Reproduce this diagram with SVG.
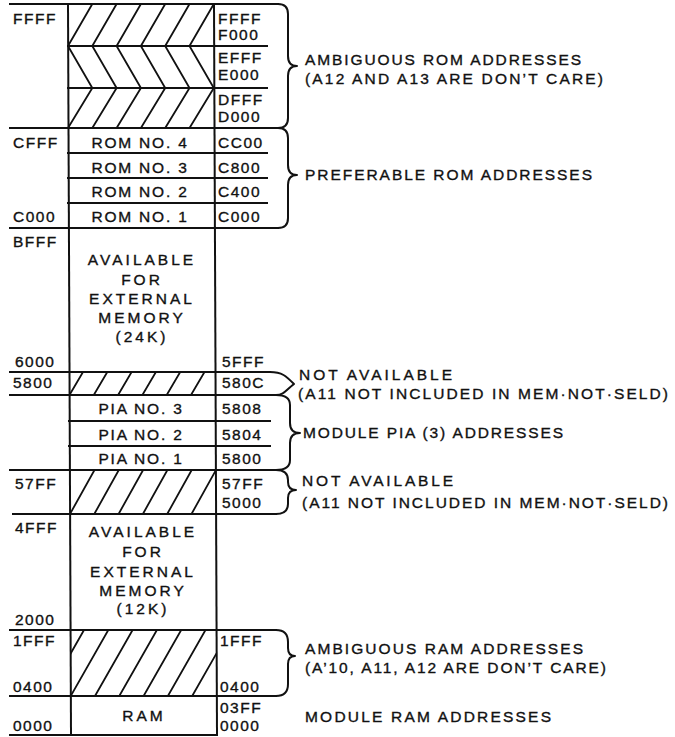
<svg xmlns="http://www.w3.org/2000/svg" width="675" height="737" viewBox="0 0 675 737">
<style>
text{font-family:"Liberation Sans",Arial,Helvetica,sans-serif;font-size:15.5px;fill:#111;stroke:#111;stroke-width:0.35px}
.adr{letter-spacing:1.5px}
.rom{letter-spacing:1.8px;text-anchor:middle}
.ext{letter-spacing:3px;text-anchor:middle}
.ln{stroke:#111;stroke-width:2;fill:none;stroke-linecap:square}
.ht{stroke:#111;stroke-width:1.8;fill:none}
.br{stroke:#111;stroke-width:2;fill:none;stroke-linejoin:round}
</style>
<defs>
<clipPath id="cD"><rect x="69.5" y="372" width="146" height="23"/></clipPath>
<clipPath id="cE"><rect x="70" y="470" width="146" height="44"/></clipPath>
<clipPath id="cF"><rect x="70.7" y="630" width="146" height="66"/></clipPath>
</defs>
<rect width="675" height="737" fill="#fff"/>

<g id="frame">
<line class="ln" x1="68" y1="4" x2="71" y2="735"/>
<line class="ln" x1="214" y1="4" x2="217" y2="735"/>
<line class="ln" x1="10" y1="4" x2="278" y2="4"/>
<line class="ln" x1="10" y1="128" x2="278" y2="128"/>
<line class="ln" x1="10" y1="228" x2="278" y2="228"/>
<line class="ln" x1="10" y1="372" x2="270" y2="372"/>
<line class="ln" x1="10" y1="395" x2="276" y2="395"/>
<line class="ln" x1="10" y1="470" x2="276" y2="470"/>
<line class="ln" x1="13" y1="514" x2="276" y2="514"/>
<line class="ln" x1="10" y1="630" x2="276" y2="630"/>
<line class="ln" x1="10" y1="696" x2="276" y2="696"/>
<line class="ln" x1="10" y1="735" x2="217" y2="735"/>
</g>

<g id="rom-ambiguous-F">
<line class="ln" x1="68" y1="46" x2="267" y2="46"/>
<path class="ht" d="M68 46L92.3 4M92.3 46L116.6 4M116.6 46L140.9 4M140.9 46L165.2 4M165.2 46L189.5 4M189.5 46L213.8 4"/>
<text class="adr" x="13" y="24">FFFF</text>
<text class="adr" x="218" y="24">FFFF</text>
<text class="adr" x="218" y="40">F000</text>
</g>
<g id="rom-ambiguous-E">
<line class="ln" x1="68" y1="88" x2="267" y2="88"/>
<path class="ht" d="M68 46L92.3 88M92.3 46L116.6 88M116.6 46L140.9 88M140.9 46L165.2 88M165.2 46L189.5 88M189.5 46L213.8 88"/>
<text class="adr" x="218" y="63">EFFF</text>
<text class="adr" x="218" y="80">E000</text>
</g>
<g id="rom-ambiguous-D">
<path class="ht" d="M68 128L92.3 88M92.3 128L116.6 88M116.6 128L140.9 88M140.9 128L165.2 88M165.2 128L189.5 88M189.5 128L213.8 88"/>
<text class="adr" x="218" y="105">DFFF</text>
<text class="adr" x="218" y="122">D000</text>
</g>

<g id="rom4">
<line class="ln" x1="68" y1="153" x2="267" y2="153"/>
<text class="adr" x="13" y="148">CFFF</text>
<text class="rom" x="140" y="148">ROM NO. 4</text>
<text class="adr" x="218" y="148">CC00</text>
</g>
<g id="rom3">
<line class="ln" x1="68" y1="178" x2="267" y2="178"/>
<text class="rom" x="140" y="173">ROM NO. 3</text>
<text class="adr" x="218" y="173">C800</text>
</g>
<g id="rom2">
<line class="ln" x1="68" y1="203" x2="267" y2="203"/>
<text class="rom" x="140" y="197">ROM NO. 2</text>
<text class="adr" x="218" y="197">C400</text>
</g>
<g id="rom1">
<text class="adr" x="13" y="222">C000</text>
<text class="rom" x="140" y="222">ROM NO. 1</text>
<text class="adr" x="218" y="222">C000</text>
</g>

<g id="ext24k">
<text class="adr" x="13" y="247">BFFF</text>
<text class="ext" x="142" y="265">AVAILABLE</text>
<text class="ext" x="142" y="285">FOR</text>
<text class="ext" x="142" y="304">EXTERNAL</text>
<text class="ext" x="142" y="323">MEMORY</text>
<text class="ext" x="142" y="342">(24K)</text>
<text class="adr" x="15" y="367">6000</text>
<text class="adr" x="222" y="367">5FFF</text>
</g>

<g id="na-5800">
<path class="ht" clip-path="url(#cD)" d="M69.5 395L83 372M93.8 395L107.3 372M118.1 395L131.6 372M142.4 395L155.9 372M166.7 395L180.2 372M191 395L204.5 372"/>
<text class="adr" x="13" y="388">5800</text>
<text class="adr" x="222" y="388">580C</text>
</g>

<g id="pia3">
<line class="ln" x1="69" y1="421" x2="270" y2="421"/>
<text class="rom" x="141" y="414">PIA NO. 3</text>
<text class="adr" x="222" y="414">5808</text>
</g>
<g id="pia2">
<line class="ln" x1="69" y1="446" x2="270" y2="446"/>
<text class="rom" x="141" y="440">PIA NO. 2</text>
<text class="adr" x="222" y="440">5804</text>
</g>
<g id="pia1">
<text class="rom" x="141" y="464">PIA NO. 1</text>
<text class="adr" x="222" y="464">5800</text>
</g>

<g id="na-57ff">
<path class="ht" clip-path="url(#cE)" d="M45.7 514L70.2 470M70 514L94.5 470M94.3 514L118.8 470M118.6 514L143.1 470M142.9 514L167.4 470M167.2 514L191.7 470M191.5 514L216 470"/>
<text class="adr" x="15" y="489">57FF</text>
<text class="adr" x="222" y="489">57FF</text>
<text class="adr" x="222" y="508">5000</text>
</g>

<g id="ext12k">
<text class="adr" x="15" y="533">4FFF</text>
<text class="ext" x="143" y="537">AVAILABLE</text>
<text class="ext" x="143" y="557">FOR</text>
<text class="ext" x="143" y="577">EXTERNAL</text>
<text class="ext" x="143" y="596">MEMORY</text>
<text class="ext" x="143" y="614">(12K)</text>
<text class="adr" x="15" y="625">2000</text>
</g>

<g id="ram-ambiguous">
<path class="ht" clip-path="url(#cF)" d="M46.4 696L84 630M70.7 696L108.3 630M95 696L132.6 630M119.3 696L156.9 630M143.6 696L181.2 630M167.9 696L205.5 630M192.2 696L229.8 630"/>
<text class="adr" x="13" y="646">1FFF</text>
<text class="adr" x="13" y="692">0400</text>
<text class="adr" x="220" y="646">1FFF</text>
<text class="adr" x="220" y="692">0400</text>
</g>

<g id="ram">
<text class="adr" x="13" y="731">0000</text>
<text class="ext" x="144" y="721">RAM</text>
<text class="adr" x="220" y="713">03FF</text>
<text class="adr" x="220" y="731">0000</text>
</g>

<g id="connectors">
<path class="br" d="M278 4Q288 4 288 14L288 56Q288 66 297 66Q288 66 288 76L288 118Q288 128 278 128"/>
<path class="br" d="M278 128Q288 128 288 138L288 165Q288 175 297 175Q288 175 288 185L288 218Q288 228 278 228"/>
<path class="br" d="M270 372C282 372 286 376 294 384C286 390 284 395 276 395"/>
<path class="br" d="M276 395Q290 395 290 405L290 423Q290 433 300 433Q290 433 290 443L290 460Q290 470 276 470"/>
<path class="br" d="M276 470Q288 470 288 480L288 482Q288 490 296 490Q288 490 288 498L288 504Q288 514 276 514"/>
<path class="br" d="M276 630Q288 630 288 642L288 648Q288 656 295 656Q288 656 288 664L288 684Q288 696 276 696"/>
</g>

<g id="annotations">
<text x="305" y="65" textLength="276" lengthAdjust="spacing">AMBIGUOUS ROM ADDRESSES</text>
<text x="305" y="84" textLength="298" lengthAdjust="spacing">(A12 AND A13 ARE DON’T CARE)</text>
<text x="305" y="180" textLength="287" lengthAdjust="spacing">PREFERABLE ROM ADDRESSES</text>
<text x="299" y="380" textLength="153" lengthAdjust="spacing">NOT AVAILABLE</text>
<text x="298" y="399" textLength="370" lengthAdjust="spacing">(A11 NOT INCLUDED IN MEM·NOT·SELD)</text>
<text x="303" y="438" textLength="260" lengthAdjust="spacing">MODULE PIA (3) ADDRESSES</text>
<text x="302" y="486" textLength="151" lengthAdjust="spacing">NOT AVAILABLE</text>
<text x="302" y="508" textLength="366" lengthAdjust="spacing">(A11 NOT INCLUDED IN MEM·NOT·SELD)</text>
<text x="305" y="654" textLength="278" lengthAdjust="spacing">AMBIGUOUS RAM ADDRESSES</text>
<text x="305" y="673" textLength="301" lengthAdjust="spacing">(A’10, A11, A12 ARE DON’T CARE)</text>
<text x="305" y="722" textLength="246" lengthAdjust="spacing">MODULE RAM ADDRESSES</text>
</g>
</svg>
